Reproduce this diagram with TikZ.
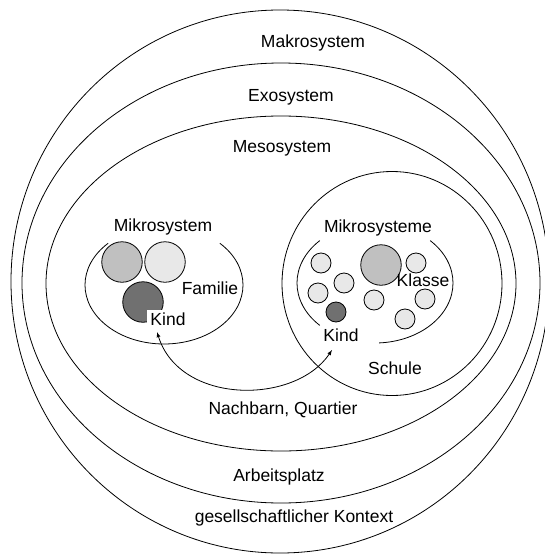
\documentclass[tikz,border=0pt]{standalone}
\usepackage{fontspec}
\setmainfont{Liberation Sans}
\usetikzlibrary{arrows}
\definecolor{grauhell}{HTML}{E8E8E8}
\definecolor{grau}{HTML}{C0C0C0}
\definecolor{graudunkel}{HTML}{707070}
\begin{document}
\begin{tikzpicture}[x=1pt,y=-1pt,>=latex,line width=0.8pt,
  txt/.style={font=\fontsize{17.5}{20}\selectfont,inner sep=1pt},
  big node/.style={circle,draw,inner sep=0pt,minimum size=40.5pt},
  small node/.style={circle,draw,fill=grauhell,inner sep=0pt,minimum size=20pt}]
  \useasboundingbox (0,0) rectangle (545,555);

  % Systeme
  \draw (280,281.5) ellipse [x radius=269, y radius=271.5];
  \draw (281,283) ellipse [x radius=259, y radius=220];
  \draw (281,283.5) ellipse [x radius=235, y radius=167.5];
  \draw (392,283.5) ellipse [x radius=110, y radius=112];

  % Mikrosysteme
  \draw (164,285) ++(-45:79 and 59) arc [start angle=-45, end angle=225, x radius=79, y radius=59];
  \draw (375,283) ++(135:78 and 60) arc [start angle=135, end angle=225, x radius=78, y radius=60];
  \draw (375,283) ++(-45:78 and 60) arc [start angle=-45, end angle=87, x radius=78, y radius=60];

  % Familie
  \node[big node,fill=grau] (mutter) at (122,262) {};
  \node[big node,fill=grauhell] (vater) at (165,262) {};
  \node[big node,fill=graudunkel] (kind1) at (143,302) {};

  % Schule
  \node[big node,fill=grau] (lehrer) at (381,265) {};
  \node[small node] (s1) at (321,263) {};
  \node[small node] (s2) at (344,283) {};
  \node[small node] (s3) at (318,293) {};
  \node[small node,fill=graudunkel] (kind2) at (336,312) {};
  \node[small node] (s4) at (416,263) {};
  \node[small node] (s5) at (374,300) {};
  \node[small node] (s6) at (425,299) {};
  \node[small node] (s7) at (405,319) {};

  % Beschriftungen
  \node[txt] (makro) at (313,43) {Makrosystem};
  \node[txt] (exo) at (291,97) {Exosystem};
  \node[txt] (meso) at (282,148) {Mesosystem};
  \node[txt] (mikro1) at (163,227) {Mikrosystem};
  \node[txt] (mikro2) at (378,228) {Mikrosysteme};
  \node[txt] (familie) at (210,288) {Familie};
  \node[txt] (klasse) at (423,280) {Klasse};
  \node[txt,fill=white,inner sep=3pt] (kindL) at (168,319) {Kind};
  \node[txt] (kindR) at (341,335) {Kind};
  \node[txt] (schule) at (395,368) {Schule};
  \node[txt] (quartier) at (283,410) {Nachbarn, Quartier};
  \node[txt] (arbeit) at (279,477) {Arbeitsplatz};
  \node[txt] (kontext) at (294,518) {gesellschaftlicher Kontext};

  \coordinate (tipL) at (157,332);
  \coordinate (tipR) at (332,350);
  \draw[<->] (tipL) .. controls (180,405) and (295,405) .. (tipR);
\end{tikzpicture}
\end{document}
